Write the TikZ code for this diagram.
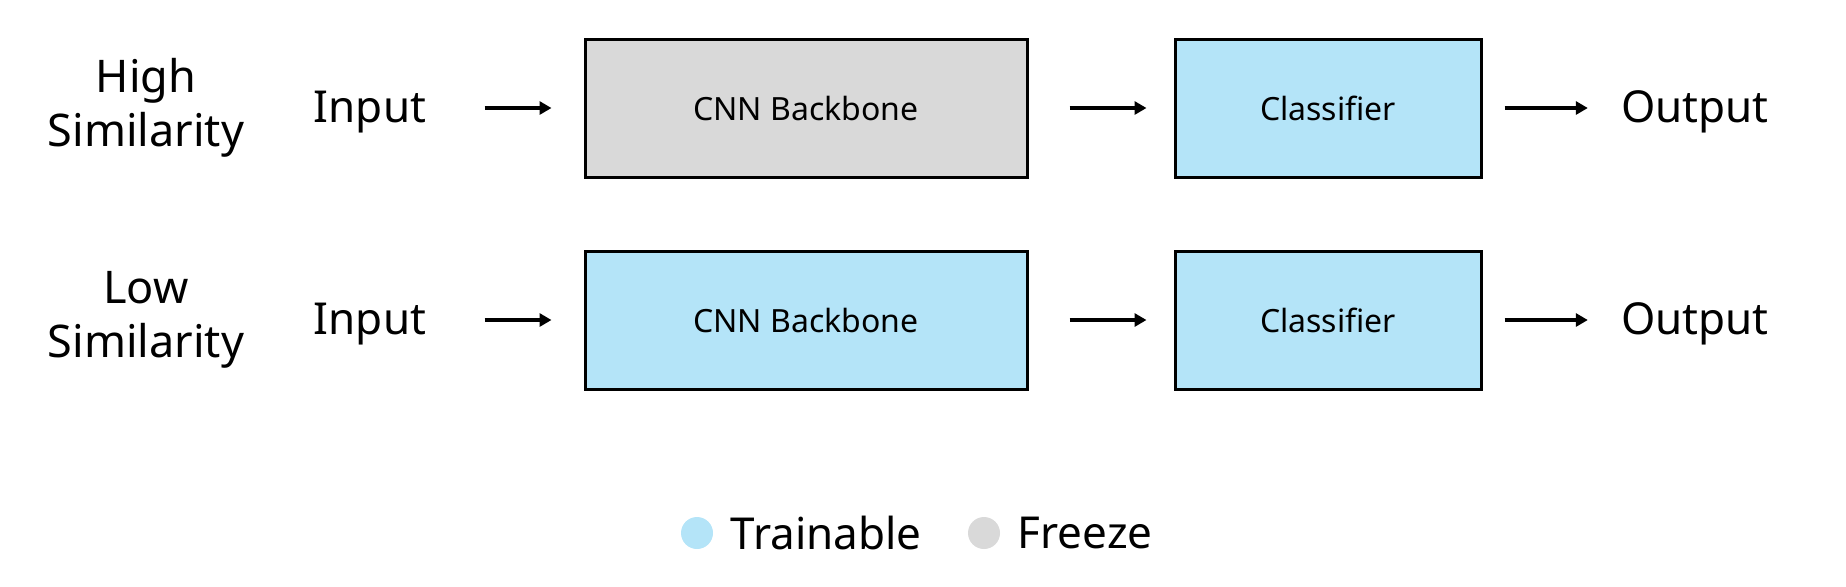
\documentclass[tikz,border=0pt]{standalone}
\usepackage{fontspec}
\setmainfont{Noto Sans}
\usepackage{xcolor}
\definecolor{trainblue}{RGB}{180,228,248}
\definecolor{freezegray}{RGB}{217,217,217}
\usetikzlibrary{arrows.meta,positioning}

\begin{document}
\begin{tikzpicture}[x=0.5pt, y=-0.5pt,
    block/.style={rectangle, draw=black, line width=1.5pt, minimum height=69pt,
      align=center, font=\fontsize{16}{19}\selectfont},
    backbone/.style={block, minimum width=221pt},
    head/.style={block, minimum width=153pt},
    rowlabel/.style={align=center, inner sep=0pt, font=\fontsize{22.5}{27}\selectfont},
    io/.style={inner sep=0pt, font=\fontsize{22}{26}\selectfont},
    dot/.style={circle, minimum size=16pt, inner sep=0pt},
    arrow/.style={line width=1.8pt, -{Triangle[length=6pt, width=6.5pt]}}
  ]
    \useasboundingbox (0,0) rectangle (1846,586);
    % Row labels
    \node[rowlabel] (high) at (146,108) {High\\Similarity};
    \node[rowlabel] (low) at (146,320) {Low\\Similarity};
    % High similarity row
    \node[io] (in1) at (370,112) {Input};
    \node[backbone, fill=freezegray] (cnn1) at (806,108) {CNN Backbone};
    \node[head, fill=trainblue] (cls1) at (1328,108) {Classifier};
    \node[io] (out1) at (1695,112) {Output};
    % Low similarity row
    \node[io] (in2) at (370,324) {Input};
    \node[backbone, fill=trainblue] (cnn2) at (806,320) {CNN Backbone};
    \node[head, fill=trainblue] (cls2) at (1328,320) {Classifier};
    \node[io] (out2) at (1695,324) {Output};
    % Arrows
    \foreach \r in {1,2} {
      \draw[arrow, shorten <=29pt, shorten >=16pt] (in\r.east |- cnn\r.west) -- (cnn\r.west);
      \draw[arrow, shorten <=20.5pt, shorten >=13.5pt] (cnn\r) -- (cls\r);
      \draw[arrow, shorten <=11pt, shorten >=16.5pt] (cls\r.east) -- (cls\r.east -| out\r.west);
    }
    % Legend
    \node[dot, fill=trainblue] (dottrain) at (697,533) {};
    \node[io, right=8.5pt of dottrain] (legtrain) {Trainable};
    \node[dot, fill=freezegray] (dotfreeze) at (984,533) {};
    \node[io, right=8.5pt of dotfreeze] (legfreeze) {Freeze};
\end{tikzpicture}
\end{document}
